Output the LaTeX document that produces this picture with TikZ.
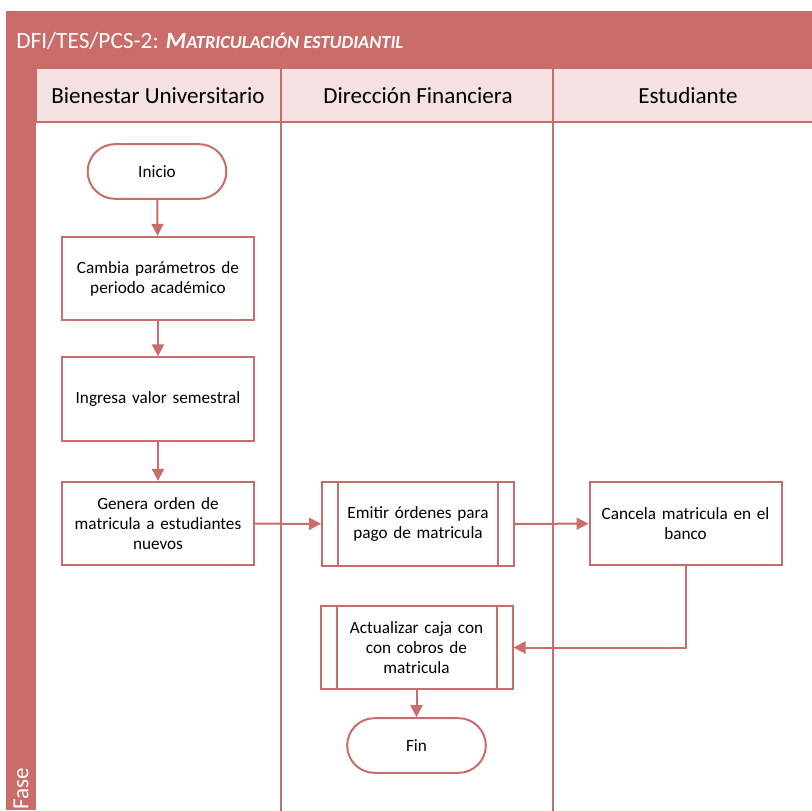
\documentclass[tikz,border=0pt]{standalone}
\usepackage{fontspec}
\setmainfont{Carlito}
\usetikzlibrary{arrows.meta}

\definecolor{laneRed}{RGB}{201,108,106}
\definecolor{headPink}{RGB}{244,225,225}
\tikzset{
  proc/.style={draw=laneRed,line width=1.5pt,fill=white,minimum width=144pt,minimum height=62.5pt,text width=136pt,align=center,font=\fontsize{12.9}{15}\selectfont,inner sep=0pt},
  term/.style={draw=laneRed,line width=1.5pt,fill=white,minimum width=104pt,minimum height=41pt,rounded corners=20.5pt,font=\fontsize{12.9}{15}\selectfont},
  flow/.style={draw=laneRed,line width=1.5pt,-{Triangle[length=9pt,width=9pt]}},
  lane/.style={draw=laneRed,line width=1.2pt},
  headtxt/.style={font=\fontsize{17.3}{20}\selectfont}
}

\begin{document}
\begin{tikzpicture}[x=0.75pt,y=0.75pt,yscale=-1,xscale=1]
\useasboundingbox (0,0) rectangle (812,810);

%Pool frame
\fill [laneRed] (6,11) rectangle (812,810);
\fill [white] (36,122) rectangle (812,810);
%Lane headers
\draw [lane,fill=headPink] (36,68) rectangle (281,122);
\draw [lane,fill=headPink] (281,68) rectangle (553,122);
\draw [lane,fill=headPink] (553,68) rectangle (814,122);
%Lane separators
\draw [lane] (281,122) -- (281,812);
\draw [lane] (553,122) -- (553,812);

% Text Node
\node (titulo) [anchor=west,text=white,font=\fontsize{17.5}{20}\selectfont,inner sep=0pt] at (16,41) {DFI/TES/PCS-2: {\bfseries\itshape M\fontsize{13.8}{16}\selectfont ATRICULACIÓN ESTUDIANTIL}};
% Text Node
\node (fase) [anchor=west,rotate=90,text=white,headtxt] at (21,814) {Fase};
% Text Node
\node (bienestar) [headtxt] at (158,96) {Bienestar Universitario};
\node (direccion) [headtxt] at (418,96) {Dirección Financiera};
\node (estudiante) [headtxt] at (688,96) {Estudiante};

%Shapes
\node (inicio) [term] at (157,171.5) {Inicio};
\node (cambia) [proc] at (158,278.5) {Cambia parámetros de\\ periodo académico};
\node (ingresa) [proc] at (158,399) {Ingresa valor semestral};
\node (genera) [proc] at (158,523.5) {Genera orden de\\ matricula a estudiantes\\ nuevos};
\node (emitir) [proc] at (418,524) {Emitir órdenes para\\ pago de matricula};
\draw [lane,line width=1.5pt] ([xshift=12.75pt]emitir.north west) -- ([xshift=12.75pt]emitir.south west);
\draw [lane,line width=1.5pt] ([xshift=-12.75pt]emitir.north east) -- ([xshift=-12.75pt]emitir.south east);
\node (cancela) [proc] at (685.5,523.5) {Cancela matricula en el\\ banco};
\node (actualizar) [proc] at (416.5,647.5) {Actualizar caja con\\ con cobros de\\ matricula};
\draw [lane,line width=1.5pt] ([xshift=12.75pt]actualizar.north west) -- ([xshift=12.75pt]actualizar.south west);
\draw [lane,line width=1.5pt] ([xshift=-12.75pt]actualizar.north east) -- ([xshift=-12.75pt]actualizar.south east);
\node (fin) [term] at (416.5,745.5) {Fin};

%Connectors
\draw [flow] (inicio) -- (cambia);
\draw [flow] (cambia) -- (ingresa);
\draw [flow] (ingresa) -- (genera);
\draw [flow] (genera) -- (emitir);
\draw [flow] (emitir) -- (cancela);
\draw [flow] (cancela.south) |- (actualizar.east);
\draw [flow] (actualizar) -- (fin);

\end{tikzpicture}
\end{document}
